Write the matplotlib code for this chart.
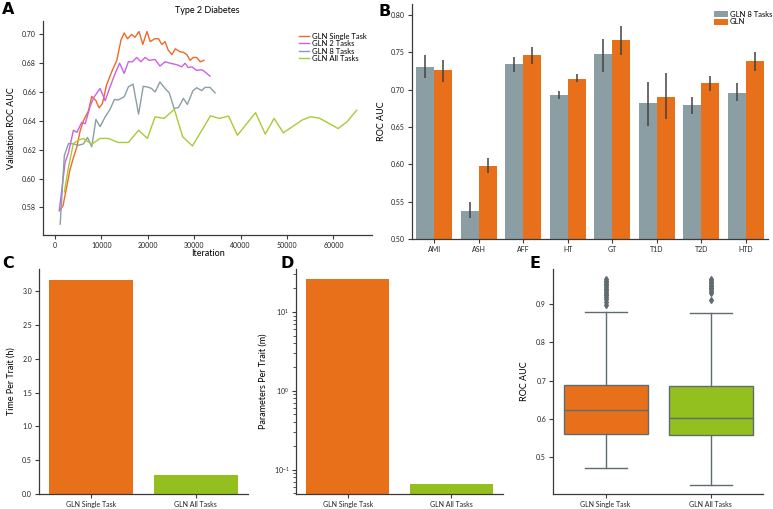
import matplotlib.pyplot as plt

plt.rcParams['font.family'] = ['Lato', 'DejaVu Sans']
plt.rcParams['axes.edgecolor'] = '#3a3a3a'
plt.rcParams['xtick.color'] = '#3a3a3a'
plt.rcParams['ytick.color'] = '#3a3a3a'
plt.rcParams['xtick.labelcolor'] = '#222222'
plt.rcParams['ytick.labelcolor'] = '#222222'

ORANGE = '#e8701b'
GREEN = '#93c01f'
GRAY = '#8b9ea3'
PURPLE = '#c862e6'

# --- panel A: validation curves (Type 2 Diabetes)
single_x = [1000, 1700, 2500, 3200, 4000, 4700, 5400, 6100, 7200, 7900, 8800, 9500, 10200,
            11100, 12200, 13300, 14200, 14900, 15600, 16500, 17200, 18100, 18900, 19800,
            20500, 21500, 22300, 23000, 23700, 24400, 25200, 25900, 26900, 27700, 28400,
            29100, 29800, 30500, 31300, 32100]
single_y = [0.578, 0.581, 0.594, 0.606, 0.615, 0.622, 0.633, 0.640, 0.647, 0.657, 0.654, 0.649,
            0.652, 0.665, 0.674, 0.682, 0.696, 0.701, 0.697, 0.700, 0.698, 0.702, 0.693, 0.702,
            0.695, 0.697, 0.697, 0.693, 0.695, 0.689, 0.686, 0.690, 0.688, 0.6875, 0.686,
            0.682, 0.684, 0.684, 0.681, 0.682]
two_x = [900, 2150, 2900, 3950, 4700, 5750, 6500, 7550, 8300, 9700, 10800, 11850, 12800, 13900,
         14900, 15800, 16650, 17600, 18500, 19400, 20300, 21550, 22600, 23700, 24800, 26200,
         27300, 28000, 28700, 29500, 30500, 31600, 32300, 33400]
two_y = [0.5775, 0.611, 0.618, 0.6335, 0.632, 0.639, 0.638, 0.650, 0.656, 0.6625, 0.654, 0.6636,
         0.6717, 0.680, 0.673, 0.681, 0.681, 0.684, 0.681, 0.684, 0.682, 0.6826, 0.678, 0.681,
         0.680, 0.679, 0.6775, 0.680, 0.677, 0.6775, 0.675, 0.6755, 0.674, 0.671]
eight_x = [1100, 2000, 2900, 4000, 5000, 6100, 7000, 7900, 8800, 9700, 10800, 11850, 12800,
           13600, 14900, 15800, 16800, 18000, 19000, 19900, 20800, 21550, 22600, 23700, 24600,
           25650, 26600, 27650, 28500, 29700, 30500, 31600, 32300, 33400, 34500]
eight_y = [0.5683, 0.616, 0.6243, 0.624, 0.623, 0.624, 0.6285, 0.622, 0.641, 0.636, 0.6428,
           0.648, 0.6549, 0.6545, 0.6567, 0.6636, 0.6655, 0.6447, 0.664, 0.6635, 0.6625, 0.660,
           0.667, 0.6625, 0.6595, 0.6486, 0.6493, 0.6556, 0.6514, 0.6608, 0.663, 0.661, 0.6632,
           0.6632, 0.6594]
all_x = [2000, 2900, 3950, 5000, 6100, 7900, 9700, 11500, 13600, 15800, 18000, 19900, 21550,
         23500, 25700, 27500, 29600, 33500, 35400, 37400, 39300, 43200, 45300, 47200, 49200,
         53200, 55000, 56900, 61000, 62900, 65000]
all_y = [0.5907, 0.608, 0.6243, 0.6266, 0.6278, 0.6238, 0.6278, 0.6278, 0.625, 0.625, 0.6335,
         0.6278, 0.6428, 0.6417, 0.648, 0.629, 0.6226, 0.6435, 0.6417, 0.6433, 0.630, 0.6457,
         0.6308, 0.6417, 0.6317, 0.6405, 0.6428, 0.642, 0.6347, 0.6393, 0.6474]

# --- panel B: per-trait ROC AUC
traits = ['AMI', 'ASH', 'AFF', 'HT', 'GT', 'T1D', 'T2D', 'HTD']
multi_auc = [0.731, 0.538, 0.734, 0.6935, 0.7475, 0.682, 0.679, 0.696]
multi_lo = [0.716, 0.528, 0.724, 0.687, 0.724, 0.652, 0.667, 0.6845]
multi_hi = [0.747, 0.549, 0.744, 0.699, 0.768, 0.711, 0.690, 0.709]
gln_auc = [0.726, 0.598, 0.7465, 0.715, 0.767, 0.691, 0.7085, 0.738]
gln_lo = [0.710, 0.588, 0.735, 0.710, 0.747, 0.661, 0.698, 0.725]
gln_hi = [0.740, 0.608, 0.758, 0.721, 0.786, 0.7225, 0.719, 0.750]

# --- panels C, D, E
models = ['GLN Single Task', 'GLN All Tasks']
time_per_trait = [3.16, 0.28]
params_per_trait = [25.9, 0.066]
# box stats: whisker low, q1, median, q3, whisker high
box_lo = [0.473, 0.428]
box_q1 = [0.560, 0.557]
box_med = [0.624, 0.603]
box_q3 = [0.688, 0.687]
box_hi = [0.879, 0.875]
fliers_single = [0.896, 0.905, 0.912, 0.918, 0.922, 0.927, 0.931, 0.936, 0.940, 0.944,
                 0.948, 0.952, 0.956, 0.960, 0.964]
fliers_all = [0.910, 0.928, 0.933, 0.938, 0.942, 0.946, 0.950, 0.954, 0.958, 0.962, 0.965]

W, H = 773, 509
fig = plt.figure(figsize=(W / 100, H / 100), dpi=100)


def add_ax(left, top, right, bottom):
    return fig.add_axes([left / W, 1 - bottom / H, (right - left) / W, (bottom - top) / H])


def style(ax):
    for s in ['top', 'right']:
        ax.spines[s].set_visible(False)
    for s in ['left', 'bottom']:
        ax.spines[s].set_linewidth(0.9)
    ax.tick_params(labelsize=5, length=3, width=0.8, pad=2)


LAB_FS = 6.5

# A
axA = add_ax(43, 21, 372, 235)
style(axA)
axA.plot(single_x, single_y, color='#ee6a25', lw=1.0, label='GLN Single Task')
axA.plot(two_x, two_y, color=PURPLE, lw=1.0, label='GLN 2 Tasks')
axA.plot(eight_x, eight_y, color=GRAY, lw=1.0, label='GLN 8 Tasks')
axA.plot(all_x, all_y, color='#a8cb35', lw=1.0, label='GLN All Tasks')
axA.set_xlim(-2600, 68300)
axA.set_ylim(0.5608, 0.7093)
axA.set_xticks([0, 10000, 20000, 30000, 40000, 50000, 60000])
axA.set_yticks([0.58, 0.60, 0.62, 0.64, 0.66, 0.68, 0.70])
axA.set_yticklabels(['%.2f' % v for v in [0.58, 0.60, 0.62, 0.64, 0.66, 0.68, 0.70]])
axA.set_xlabel('Iteration', fontsize=LAB_FS, labelpad=0)
axA.set_ylabel('Validation ROC AUC', fontsize=LAB_FS, labelpad=4)
axA.set_title('Type 2 Diabetes', fontsize=LAB_FS, pad=6)
axA.legend(loc='upper right', fontsize=5.5, frameon=False, handlelength=1.3,
           labelspacing=0.05, borderaxespad=0.3, handletextpad=0.4,
           bbox_to_anchor=(1.0, 0.97))

# B
axB = add_ax(412, 4, 768, 239)
style(axB)
pos = list(range(len(traits)))
axB.bar([p - 0.2 for p in pos], multi_auc, width=0.4, color=GRAY, label='GLN 8 Tasks')
axB.bar([p + 0.2 for p in pos], gln_auc, width=0.4, color=ORANGE, label='GLN')
axB.vlines([p - 0.2 for p in pos], multi_lo, multi_hi, color='#424242', lw=1.1)
axB.vlines([p + 0.2 for p in pos], gln_lo, gln_hi, color='#424242', lw=1.1)
axB.set_xlim(-0.5, len(traits) - 0.5)
axB.set_ylim(0.5, 0.815)
axB.set_xticks(pos)
axB.set_xticklabels(traits)
axB.set_yticks([0.50, 0.55, 0.60, 0.65, 0.70, 0.75, 0.80])
axB.set_yticklabels(['%.2f' % v for v in [0.50, 0.55, 0.60, 0.65, 0.70, 0.75, 0.80]])
axB.set_ylabel('ROC AUC', fontsize=LAB_FS, labelpad=4)
axB.legend(loc='upper right', fontsize=5.5, frameon=False, handlelength=1.8,
           handleheight=0.9, labelspacing=0.1, borderaxespad=0.0, handletextpad=0.2,
           bbox_to_anchor=(1.02, 0.985))

# C
axC = add_ax(39, 269, 248, 494)
style(axC)
axC.bar(range(2), time_per_trait, width=0.8, color=[ORANGE, GREEN])
axC.set_xlim(-0.5, 1.5)
axC.set_ylim(0, 3.33)
axC.set_xticks(range(2))
axC.set_xticklabels(models)
axC.set_yticks([0.0, 0.5, 1.0, 1.5, 2.0, 2.5, 3.0])
axC.set_ylabel('Time Per Trait (h)', fontsize=LAB_FS, labelpad=5)

# D
axD = add_ax(296, 269, 503, 494)
style(axD)
axD.bar(range(2), params_per_trait, width=0.8, color=[ORANGE, GREEN])
axD.set_yscale('log')
axD.set_xlim(-0.5, 1.5)
axD.set_ylim(0.049, 35)
axD.set_xticks(range(2))
axD.set_xticklabels(models)
axD.tick_params(axis='y', which='minor', length=2, width=0.6)
axD.set_ylabel('Parameters Per Trait (m)', fontsize=LAB_FS, labelpad=4)

# E
axE = add_ax(553, 269, 763, 494)
style(axE)
stats = [
    dict(whislo=box_lo[i], q1=box_q1[i], med=box_med[i], q3=box_q3[i], whishi=box_hi[i],
         fliers=f)
    for i, f in enumerate([fliers_single, fliers_all])
]
bp = axE.bxp(stats, positions=[0, 1], widths=0.8, patch_artist=True,
             boxprops=dict(edgecolor='#5f6b6e', linewidth=1.0),
             medianprops=dict(color='#5f6b6e', linewidth=1.0),
             whiskerprops=dict(color='#5f6b6e', linewidth=1.0),
             capprops=dict(color='#5f6b6e', linewidth=1.0),
             flierprops=dict(marker='d', markersize=3, markerfacecolor='#5f6b6e',
                             markeredgecolor='#5f6b6e'))
for patch, c in zip(bp['boxes'], [ORANGE, GREEN]):
    patch.set_facecolor(c)
axE.set_xlim(-0.5, 1.5)
axE.set_ylim(0.404, 0.991)
axE.set_xticks([0, 1])
axE.set_xticklabels(models)
axE.set_yticks([0.5, 0.6, 0.7, 0.8, 0.9])
axE.set_ylabel('ROC AUC', fontsize=LAB_FS, labelpad=5)

# panel letters
for letter, x, y in [('A', 8, 10), ('B', 385, 11), ('C', 8, 263), ('D', 287, 263), ('E', 535, 263)]:
    fig.text(x / W, 1 - y / H, letter, fontsize=11.5, fontweight='bold', family='DejaVu Sans',
             ha='center', va='center')

fig.savefig('out.png', dpi=100)
